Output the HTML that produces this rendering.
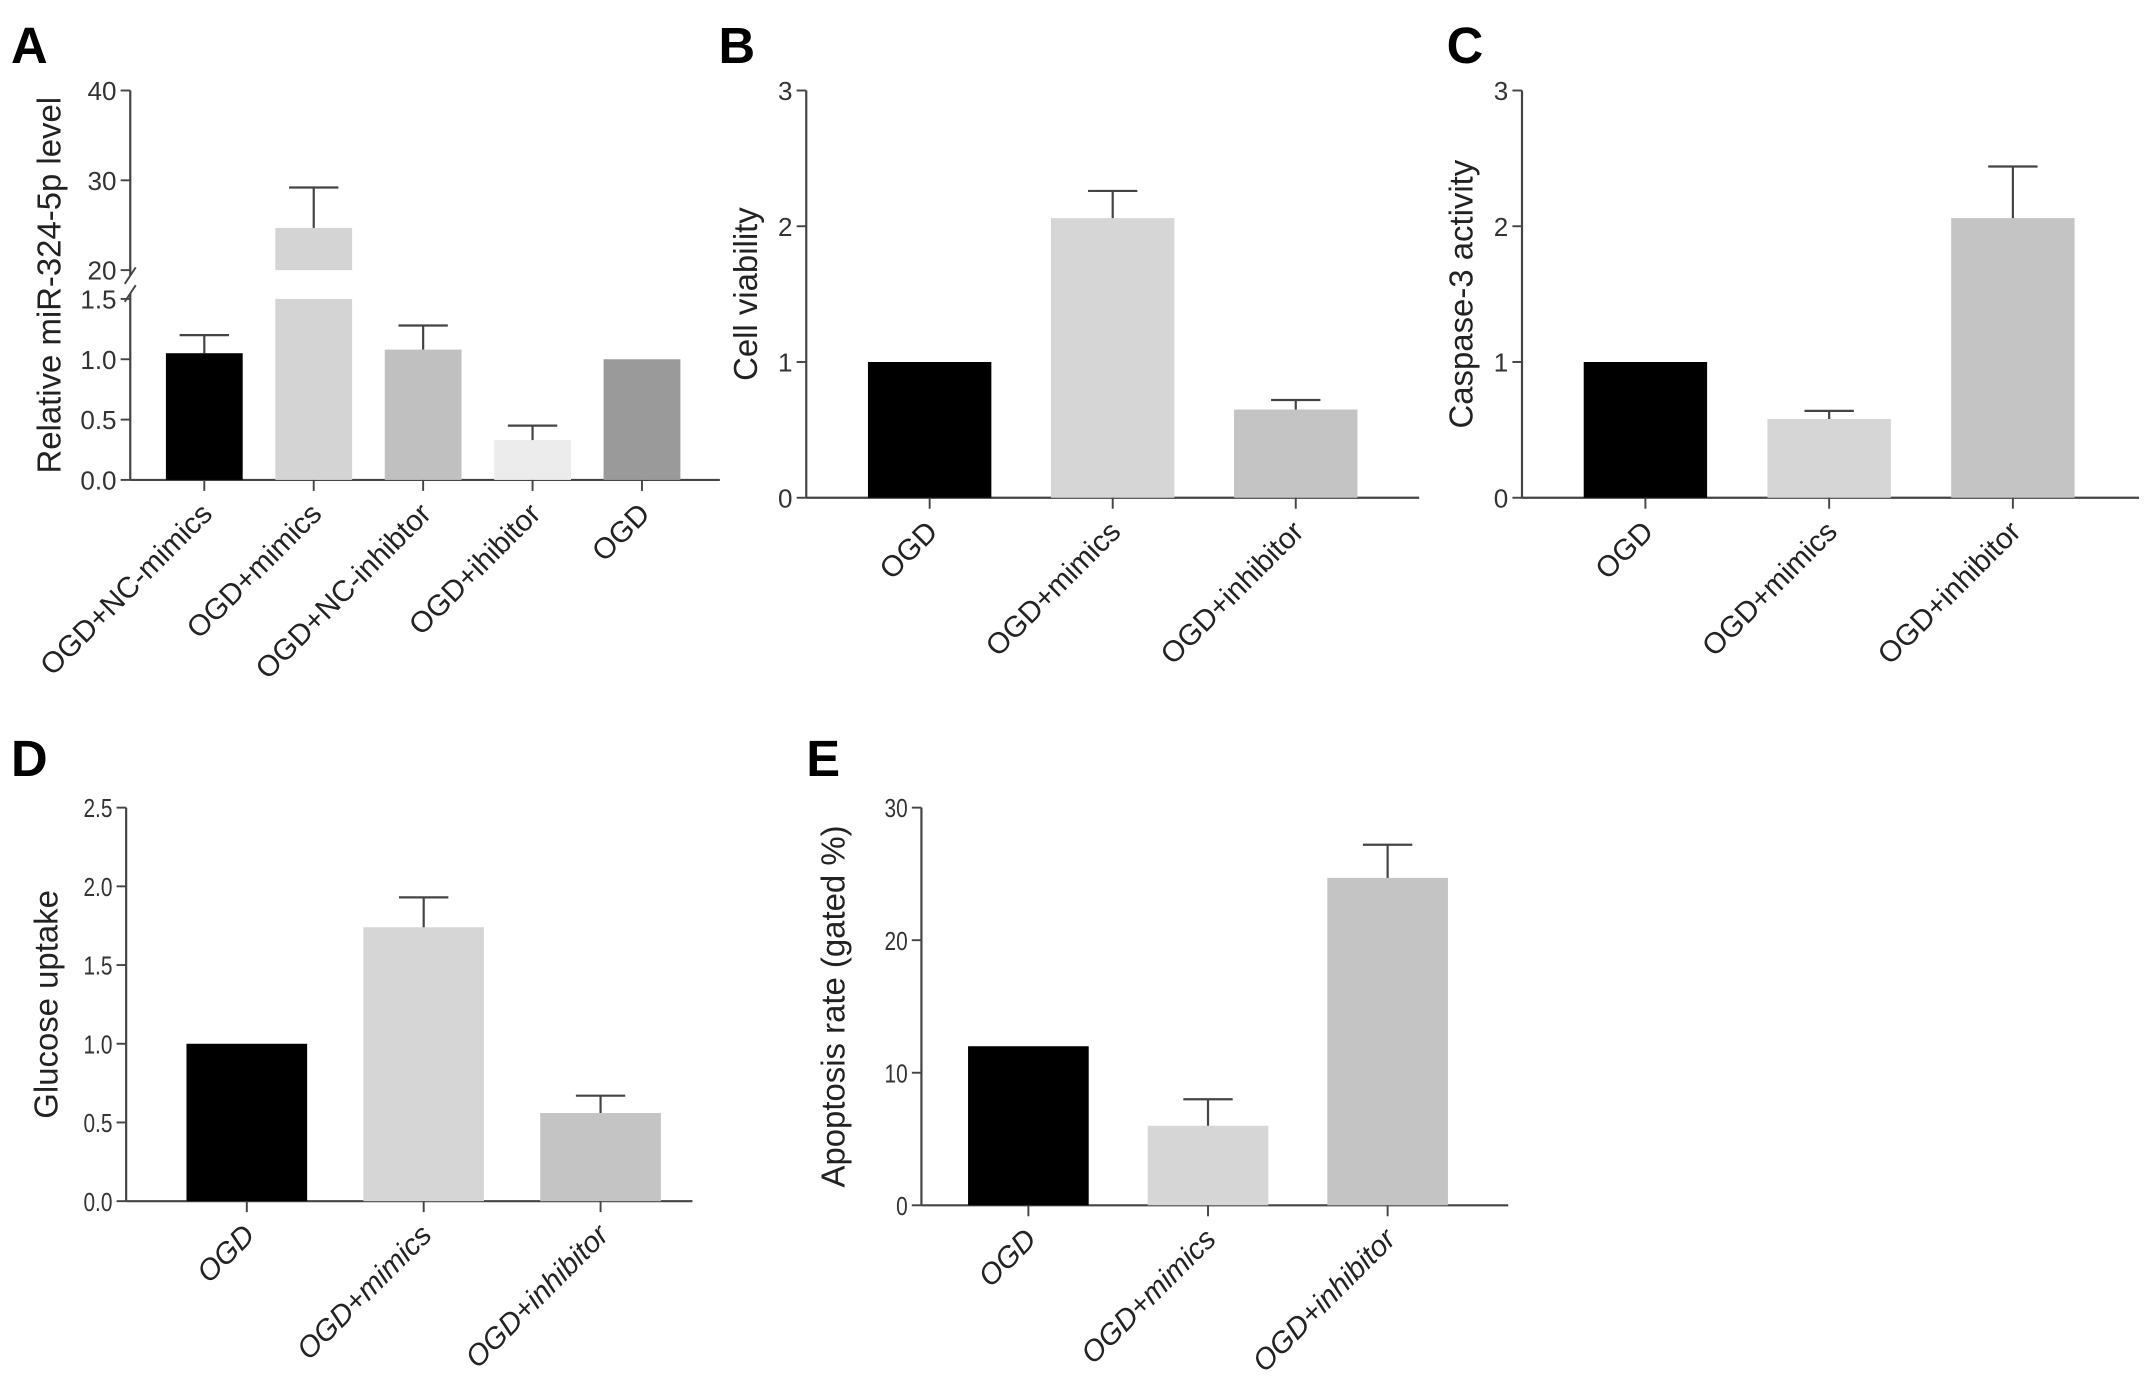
<!DOCTYPE html>
<html><head><meta charset="utf-8"><style>
html,body{margin:0;padding:0;background:#fff}
svg{display:block;font-family:"Liberation Sans",Arial,sans-serif}
</style></head><body>
<svg id="fig" width="2150" height="1400" viewBox="0 0 1568 1021" preserveAspectRatio="none" xmlns="http://www.w3.org/2000/svg"></svg>
<script>
const catsA = ["OGD+NC-mimics","OGD+mimics","OGD+NC-inhibtor","OGD+ihibitor","OGD"];
const valsA = [1.05, 24.7, 1.08, 0.33, 1.0];
const errA = [1.20, 29.2, 1.28, 0.45, 1.0];
const cats3 = ["OGD","OGD+mimics","OGD+inhibitor"];
const valsB = [1.0, 2.06, 0.65];
const errB = [1.0, 2.26, 0.72];
const valsC = [1.0, 0.58, 2.06];
const errC = [1.0, 0.64, 2.44];
const valsD = [1.0, 1.74, 0.56];
const errD = [1.0, 1.93, 0.67];
const valsE = [12, 6, 24.7];
const errE = [12, 8, 27.2];
const ticksLowA = ["0.0","0.5","1.0","1.5"];
const ticksUpA = ["20","30","40"];
const ticks03 = ["0","1","2","3"];
const ticksD = ["0.0","0.5","1.0","1.5","2.0","2.5"];
const ticksE = ["0","10","20","30"];

const NS="http://www.w3.org/2000/svg";
const svg=document.getElementById('fig');
function mk(tag,attrs,parent,text){const e=document.createElementNS(NS,tag);for(const k in attrs)e.setAttribute(k,attrs[k]);if(text!==undefined)e.textContent=text;(parent||svg).appendChild(e);return e;}
const AX="#444";
const TFS=19, LFS=21.5, TTL=24;

function letter(t,x,y){
  const e=mk('text',{x:x,y:y,'font-size':37,'font-weight':'bold',fill:'#000'},svg,t);
  
  
}

function panel(o){
  const g=mk('g',{});
  
  
  const y=v=>o.y0-(v-o.min)/(o.max-o.min)*(o.y0-o.y1);
  const ya=mk('line',{x1:o.ax,y1:o.y1,x2:o.ax,y2:o.y0,stroke:AX,'stroke-width':1.6},g);
  
  const xa=mk('line',{x1:o.ax,y1:o.y0,x2:o.xEnd,y2:o.y0,stroke:AX,'stroke-width':1.6},g);
  
  o.ticks.forEach(t=>{
    const v=parseFloat(t),yy=y(v);
    mk('line',{x1:o.ax-7,y1:yy,x2:o.ax,y2:yy,stroke:AX,'stroke-width':1.4},g);
    const tl=mk('text',{x:o.ax-10,y:yy+7,'font-size':TFS,'text-anchor':'end',fill:'#333',transform:o.cond?`translate(${o.ax-10},0) scale(0.8,1) translate(${-(o.ax-10)},0)`:''},g,t);
    
  });
  const tt=mk('text',{x:0,y:0,'font-size':TTL,'text-anchor':'middle',fill:'#222',transform:`translate(${o.tx},${(o.y0+o.y1)/2}) rotate(-90)`},g,o.title);
  
  o.cats.forEach((c,i)=>{
    const cx=o.c0+i*o.step,v=o.vals[i],e=o.errs[i];
    const yt=y(v);
    const b=mk('rect',{x:cx-o.bw/2,y:yt,width:o.bw,height:o.y0-yt,fill:o.colors[i]},g);
    
    
    if(e>v){const ye=y(e);
      mk('line',{x1:cx,y1:yt,x2:cx,y2:ye,stroke:AX,'stroke-width':1.6},g);
      mk('line',{x1:cx-18,y1:ye,x2:cx+18,y2:ye,stroke:AX,'stroke-width':1.6},g);}
    mk('line',{x1:cx,y1:o.y0,x2:cx,y2:o.y0+8,stroke:AX,'stroke-width':1.4},g);
    const lx=cx+7,ly=o.y0+26;
    const l=mk('text',{x:0,y:0,'font-size':LFS,'text-anchor':'end',fill:'#222','font-style':o.italic?'italic':'normal',transform:`translate(${lx},${ly}) rotate(-45)`},g,c);
    
  });
}

(function(){
  const g=mk('g',{});
  
  
  const ax=95,y0=350,yL=218,uB=197,uT=66;
  const yl=v=>y0-v/1.5*(y0-yL);
  const yu=v=>uB-(v-20)/20*(uB-uT);
  mk('line',{x1:ax,y1:y0,x2:ax,y2:yL-4,stroke:AX,'stroke-width':1.6},g);
  mk('line',{x1:ax,y1:uB+4,x2:ax,y2:uT,stroke:AX,'stroke-width':1.6},g);
  mk('line',{x1:ax-4,y1:yL+2,x2:ax+4,y2:yL-10,stroke:AX,'stroke-width':1.4},g);
  mk('line',{x1:ax-4,y1:uB+10,x2:ax+4,y2:uB-2,stroke:AX,'stroke-width':1.4},g);
  mk('line',{x1:ax,y1:y0,x2:525,y2:y0,stroke:AX,'stroke-width':1.6},g);
  ticksLowA.forEach(t=>{const yy=yl(parseFloat(t));
    mk('line',{x1:ax-7,y1:yy,x2:ax,y2:yy,stroke:AX,'stroke-width':1.4},g);
    const e=mk('text',{x:ax-10,y:yy+7,'font-size':TFS,'text-anchor':'end',fill:'#333'},g,t);
    });
  ticksUpA.forEach(t=>{const yy=yu(parseFloat(t));
    mk('line',{x1:ax-7,y1:yy,x2:ax,y2:yy,stroke:AX,'stroke-width':1.4},g);
    const e=mk('text',{x:ax-10,y:yy+7,'font-size':TFS,'text-anchor':'end',fill:'#333'},g,t);
    });
  const tt=mk('text',{x:0,y:0,'font-size':TTL,'text-anchor':'middle',fill:'#222',transform:`translate(44,${(y0+uT)/2}) rotate(-90)`},g,"Relative miR-324-5p level");
  
  const colors=["#000","#d4d4d4","#c0c0c0","#ececec","#9a9a9a"];
  catsA.forEach((c,i)=>{
    const cx=149+i*79.8,bw=56,v=valsA[i],e=errA[i];
    if(v<=1.5){
      const yt=yl(v);
      const b=mk('rect',{x:cx-bw/2,y:yt,width:bw,height:y0-yt,fill:colors[i]},g);
      
      if(e>v){const ye=yl(e);
        mk('line',{x1:cx,y1:yt,x2:cx,y2:ye,stroke:AX,'stroke-width':1.6},g);
        mk('line',{x1:cx-18,y1:ye,x2:cx+18,y2:ye,stroke:AX,'stroke-width':1.6},g);}
    } else {
      const b=mk('rect',{x:cx-bw/2,y:yL,width:bw,height:y0-yL,fill:colors[i]},g);
      
      const yt=yu(v);
      const b2=mk('rect',{x:cx-bw/2,y:yt,width:bw,height:uB-yt,fill:colors[i]},g);
      
      const ye=yu(e);
      mk('line',{x1:cx,y1:yt,x2:cx,y2:ye,stroke:AX,'stroke-width':1.6},g);
      mk('line',{x1:cx-18,y1:ye,x2:cx+18,y2:ye,stroke:AX,'stroke-width':1.6},g);
    }
    mk('line',{x1:cx,y1:y0,x2:cx,y2:y0+8,stroke:AX,'stroke-width':1.4},g);
    const l=mk('text',{x:0,y:0,'font-size':LFS,'text-anchor':'end',fill:'#222',transform:`translate(${cx+7},${y0+26}) rotate(-45)`},g,c);
    
  });
})();

const col3=["#000","#d6d6d6","#c4c4c4"];
panel({name:'panel-b-chart',ax:588,y0:363,y1:66,min:0,max:3,xEnd:1035,ticks:ticks03,title:'Cell viability',tx:552,cats:cats3,vals:valsB,errs:errB,c0:678,step:133.5,bw:90,colors:col3});
panel({name:'panel-c-chart',ax:1110,y0:363,y1:66,min:0,max:3,xEnd:1560,ticks:ticks03,title:'Caspase-3 activity',tx:1074,cats:cats3,vals:valsC,errs:errC,c0:1200,step:134,bw:90,colors:col3});
panel({name:'panel-d-chart',ax:92,y0:876,y1:589,min:0,max:2.5,xEnd:505,ticks:ticksD,title:'Glucose uptake',tx:42,cats:cats3,vals:valsD,errs:errD,c0:180,step:129,bw:88,colors:col3,italic:true,cond:true});
panel({name:'panel-e-chart',ax:672,y0:879,y1:589,min:0,max:30,xEnd:1100,ticks:ticksE,title:'Apoptosis rate (gated %)',tx:616,cats:cats3,vals:valsE,errs:errE,c0:750,step:131,bw:88,colors:col3,italic:true,cond:true});

letter('A',8,46);letter('B',524,46);letter('C',1055,46);letter('D',8,566);letter('E',588,566);
</script>
</body></html>
